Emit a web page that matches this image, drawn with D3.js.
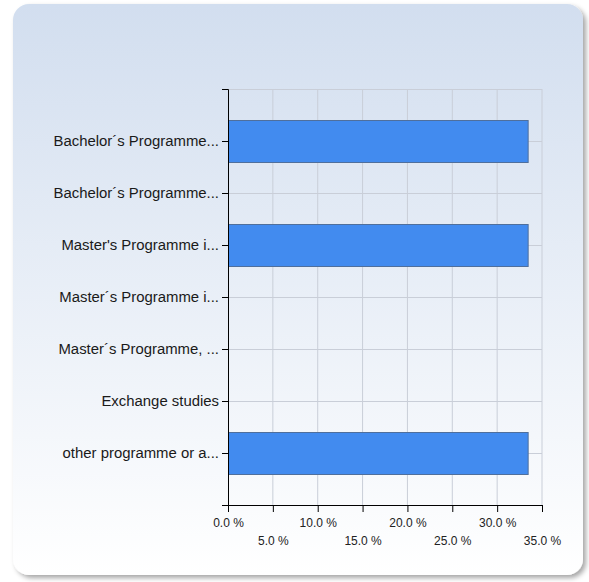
<!DOCTYPE html>
<html>
<head>
<meta charset="utf-8">
<script src="https://cdn.jsdelivr.net/npm/d3@7"></script>
<style>
  body { margin: 0; background: #fff; }
  svg text { font-family: "Liberation Sans", Arial, sans-serif; }
</style>
</head>
<body>
<div id="chart"></div>
<script>
// data
const categories = [
  'Bachelor´s Programme...',
  'Bachelor´s Programme...',
  "Master's Programme i...",
  'Master´s Programme i...',
  'Master´s Programme, ...',
  'Exchange studies',
  'other programme or a...',
];
const values = [33.4, 0, 33.4, 0, 0, 0, 33.4];
const xTicks = [0, 5, 10, 15, 20, 25, 30, 35];

const dataset = categories.map((c, i) => ({ key: i, label: c, value: values[i] }));

let dimensions = {
  width: 589,
  height: 582,
  margin: { top: 89, bottom: 77, left: 228, right: 47 },
};
dimensions.ctrWidth = dimensions.width - dimensions.margin.left - dimensions.margin.right;
dimensions.ctrHeight = dimensions.height - dimensions.margin.top - dimensions.margin.bottom;

const svg = d3
  .select('#chart')
  .append('svg')
  .attr('width', dimensions.width)
  .attr('height', dimensions.height);

// background panel
const defs = svg.append('defs');
const grad = defs
  .append('linearGradient')
  .attr('id', 'bg')
  .attr('x1', 0).attr('y1', 0).attr('x2', 0).attr('y2', 1);
grad.append('stop').attr('offset', '0%').attr('stop-color', '#d2deef');
grad.append('stop').attr('offset', '100%').attr('stop-color', '#ffffff');

const shadow = defs.append('filter').attr('id', 'shadow')
  .attr('x', '-5%').attr('y', '-5%').attr('width', '115%').attr('height', '115%');
shadow.append('feDropShadow')
  .attr('dx', 3).attr('dy', 3).attr('stdDeviation', 2.5)
  .attr('flood-color', '#000').attr('flood-opacity', 0.35);

svg.append('rect')
  .attr('x', 13).attr('y', 4)
  .attr('width', 570).attr('height', 571)
  .attr('rx', 16)
  .attr('fill', 'url(#bg)')
  .attr('filter', 'url(#shadow)');

const ctr = svg
  .append('g')
  .attr('transform', `translate(${dimensions.margin.left}, ${dimensions.margin.top})`);

// scales
const xScale = d3.scaleLinear().domain([0, 35]).range([0, dimensions.ctrWidth]);
const yScale = d3
  .scalePoint()
  .domain(dataset.map((d) => d.key))
  .range([0, dimensions.ctrHeight])
  .padding(1);
const barH = yScale.step() * 0.81;

// grid
const gridColor = '#c9ced8';
ctr.append('g')
  .selectAll('line')
  .data(xTicks.slice(1))
  .join('line')
  .attr('x1', (d) => xScale(d)).attr('x2', (d) => xScale(d))
  .attr('y1', 0).attr('y2', dimensions.ctrHeight)
  .attr('stroke', gridColor);
ctr.append('g')
  .selectAll('line')
  .data([null, ...dataset.map((d) => d.key)])
  .join('line')
  .attr('x1', 0).attr('x2', dimensions.ctrWidth)
  .attr('y1', (d) => (d === null ? 0.5 : Math.round(yScale(d)) + 0.5))
  .attr('y2', (d) => (d === null ? 0.5 : Math.round(yScale(d)) + 0.5))
  .attr('stroke', gridColor);

// bars
ctr.append('g')
  .selectAll('rect')
  .data(dataset.filter((d) => d.value > 0))
  .join('rect')
  .attr('x', xScale(0) + 0.5)
  .attr('y', (d) => Math.round(yScale(d.key) - barH / 2) + 0.5)
  .attr('width', (d) => xScale(d.value) - xScale(0))
  .attr('height', Math.round(barH))
  .attr('fill', '#428bef')
  .attr('stroke', '#4f6f9c');

// axes
const xAxis = d3.axisBottom(xScale)
  .tickValues(xTicks)
  .tickSize(7)
  .tickSizeOuter(0)
  .tickFormat((d) => d3.format('.1f')(d) + ' %');
const xAxisGroup = ctr.append('g')
  .attr('transform', `translate(0, ${dimensions.ctrHeight})`)
  .call(xAxis);
xAxisGroup.select('.domain').attr('stroke', '#000');
xAxisGroup.selectAll('.tick line').attr('stroke', '#000');
xAxisGroup.selectAll('.tick text')
  .attr('fill', '#222')
  .style('font-size', '12px')
  .attr('y', (d, i) => (i % 2 === 0 ? 13.5 : 31.5));

const yAxis = d3.axisLeft(yScale)
  .tickSize(6)
  .tickSizeOuter(6)
  .tickPadding(3)
  .tickFormat((k) => categories[k]);
const yAxisGroup = ctr.append('g').call(yAxis);
yAxisGroup.select('.domain').attr('stroke', '#000');
yAxisGroup.selectAll('.tick line').attr('stroke', '#000');
yAxisGroup.selectAll('.tick text')
  .attr('fill', '#1a1a1a')
  .style('font-size', '14.9px');
</script>
</body>
</html>
